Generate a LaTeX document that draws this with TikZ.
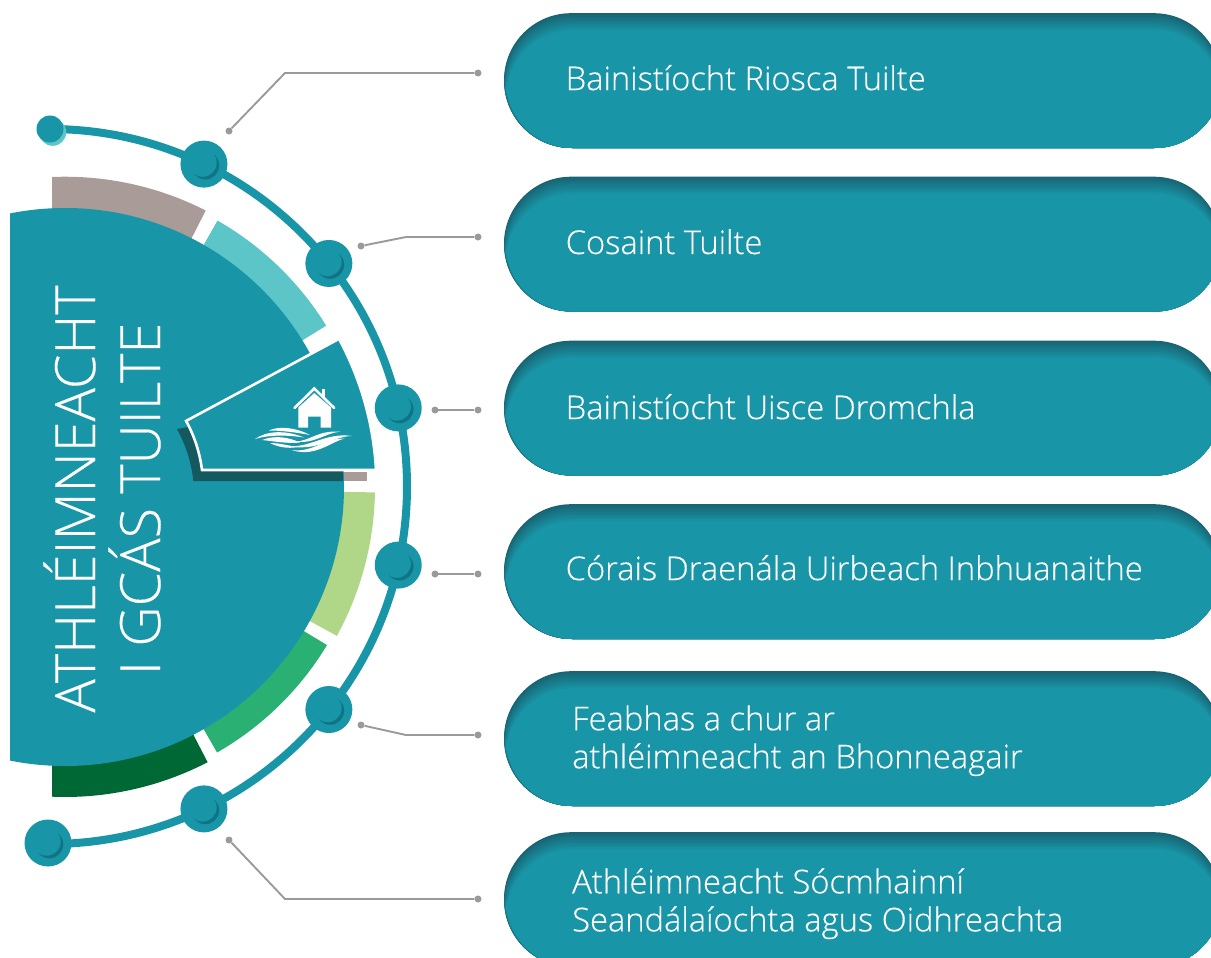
\documentclass[tikz,border=0pt]{standalone}
\usepackage{fontspec}
\setmainfont{Open Sans Light}[FakeBold=0.25]
\newfontfamily\pillfont{Open Sans Light}[FakeBold=0.35]
\usetikzlibrary{calc}
\definecolor{mainteal}{HTML}{1895A6}
\definecolor{pilldark}{HTML}{186473}
\definecolor{shadowteal}{HTML}{14595F}
\definecolor{creamteal}{HTML}{0F7485}
\definecolor{ringbrown}{HTML}{A89B98}
\definecolor{ringcyan}{HTML}{5BC5C8}
\definecolor{ringlime}{HTML}{AFD787}
\definecolor{ringgreen}{HTML}{2BB073}
\definecolor{ringdark}{HTML}{006835}
\definecolor{leadgray}{HTML}{999A9C}
\newcount\mycount
\tikzset{
 pill/.style={rectangle,rounded corners=67pt,minimum width=717pt,minimum height=135pt,inner sep=0pt},
 pilltext/.style={anchor=west,text=white,align=left,inner sep=0pt,font=\pillfont\fontsize{32.7}{38}\selectfont},
 junct/.style={circle,fill=mainteal,minimum size=47pt,inner sep=0pt,
  path picture={
   \fill[creamteal] ($(path picture bounding box.center)+(1.3,-1.3)$) circle (14pt);
   \fill[mainteal] ($(path picture bounding box.center)+(-1.3,1.3)$) circle (14pt);
  }},
 leaddot/.style={circle,fill=leadgray,minimum size=7pt,inner sep=0pt},
 leadline/.style={draw=leadgray,line width=1.9pt},
}
\begin{document}
\begin{tikzpicture}[x=1pt,y=1pt]
\useasboundingbox (0,0) rectangle (1211,-958);
\clip (0,0) rectangle (1211,-958);
\coordinate (C) at (65,-487);
\coordinate (A) at (49.5,-486.5);
% ring pieces
\fill[ringbrown] (52,-177) arc[start angle=92.4,end angle=63,radius=310pt] -- (C) -- (52,-300) -- cycle;
\foreach \startang/\endang/\ringrad/\ringcol in {60.2/31.7/307/ringcyan,-1/-28.7/310/ringlime,-31.1/-60.2/306/ringgreen}{
 \fill[\ringcol] (C) -- ++(\startang:\ringrad) arc[start angle=\startang,end angle=\endang,radius=\ringrad pt] -- cycle;
}
\fill[ringdark] (52,-796.7) arc[start angle=-92.4,end angle=-62.6,radius=310pt] -- (C) -- (52,-600) -- cycle;
% shadow piece under the sector
\fill[ringbrown] (367,-472) rectangle (343,-481);
% big disc, cut on the left
\begin{scope}
 \clip (10,0) rectangle (1211,-958);
 \fill[mainteal] (C) circle (279pt);
\end{scope}
\begin{scope}
 \clip (C) circle (279pt);
 \fill[shadowteal] (177,-429) arc[start angle=28.8,end angle=6,radius=138pt] -- (343,-481.1) -- (343,-400) -- cycle;
\end{scope}
% sector
\draw[white,line width=2.6pt,fill=mainteal,line join=miter] (C) ++(28.4:311.5) arc[start angle=28.4,end angle=3.14,radius=311.5pt] -- (202,-470) arc[start angle=7.1,end angle=28.8,radius=137pt] -- cycle;
% house
\draw[white,line width=2.6pt,line cap=round] (294.5,-408) -- (314.3,-388.5) -- (334.2,-408);
\fill[white] (322,-388.5) rectangle (325,-398);
\fill[white] (298.3,-407.5) -- (314.3,-393) -- (331,-407.5) -- (331,-427.5) -- (320.7,-427.5) -- (320.7,-416.5) -- (308,-416.5) -- (308,-427.5) -- (298.3,-427.5) -- cycle;
% waves
\fill[white] (269,-430.5) .. controls (278,-426) and (295,-427) .. (310,-435) .. controls (297,-432.5) and (282,-430.5) .. (269,-430.5);
\fill[white] (255,-439) .. controls (266,-431) and (285,-429.5) .. (304,-437.5) .. controls (288,-435) and (270,-434.5) .. (255,-439);
\fill[white] (262,-440) .. controls (275,-435) and (288,-437) .. (300,-442.5) .. controls (288,-444) and (272,-441) .. (262,-440);
\fill[white] (270,-443) .. controls (280,-443) and (290,-446) .. (297,-447) .. controls (288,-449) and (278,-447) .. (270,-443);
\fill[white] (295,-441.7) .. controls (310,-441) and (318,-430) .. (340,-431.7) .. controls (325,-433) and (315,-444) .. (295,-441.7);
\fill[white] (285,-446) .. controls (310,-449) and (325,-432) .. (352,-436) .. controls (333,-436) and (320,-452) .. (285,-446);
\fill[white] (291.7,-450) .. controls (312,-453) and (325,-438) .. (345,-438.5) .. controls (332,-441) and (315,-458) .. (291.7,-450);
% title
\node[rotate=90,align=center,text=white,inner sep=0pt,font=\fontsize{55.7}{65}\selectfont] (title) at (102,-499) {ATHLÉIMNEACHT\\I GCÁS TUILTE};
% arc and its stops
\draw[mainteal,line width=8pt] (A) ++(90:357.5) arc[start angle=90,end angle=-90,radius=357.5pt];
\foreach \number/\ang in {1/64.4,2/38.6,3/12.7,4/-12.7,5/-38.6,6/-64.4}{
\node[junct] (N-\number) at ($(A)+(\ang:357.5)$) {};
}
\fill[ringcyan] (52.7,-132.3) circle (13.5pt);
\node[circle,fill=mainteal,minimum size=27pt,inner sep=0pt] (endtop) at (50,-129) {};
\node[junct] (endbot) at (48,-843) {};
% pills
\foreach \number/\ypos/\xtext/\ytext/\ptext in {1/80.5/565.5/77.7/{Bainistíocht Riosca Tuilte},2/244/565.5/241.7/{Cosaint Tuilte},3/408/565.5/406.7/{Bainistíocht Uisce Dromchla},4/571.5/565.5/567.7/{Córais Draenála Uirbeach Inbhuanaithe},5/738.5/572/740.7/{Feabhas a chur ar\\athléimneacht an Bhonneagair},6/899.5/572/903.7/{Athléimneacht Sócmhainní\\Seandálaíochta agus Oidhreachta}}{
 \node[pill,fill=pilldark,minimum height=134.6pt] (P-\number) at (862.5,-\ypos) {};
 \foreach \layer in {1,...,9}{
  \mycount=\layer
  \multiply\mycount by 11
  \advance\mycount by 1
  \node[pill,fill=mainteal!\the\mycount!pilldark,minimum width={717.5pt-\layer*0.25pt},minimum height={135pt-\layer*1.9pt}] (P-\number-\layer) at (862.7+\layer*0.125,-\ypos-\layer*0.95) {};
 }
 \node[pilltext] (T-\number) at (\xtext,-\ytext) {\ptext};
}
% leaders
\foreach \number/\xa/\ya/\xb/\yb/\yc in {1/229/131/285/73/73,2/361/246/406/237/237,3/435/410/435/410/410,4/435/574/435/574/574,5/361/725/406/735/735,6/229/840/285/899/899}{
 \node[leaddot] (L-\number) at (\xa,-\ya) {};
 \coordinate (K-\number) at (\xb,-\yb);
 \node[leaddot] (R-\number) at (478,-\yc) {};
 \draw[leadline] (L-\number) -- (K-\number) -- (R-\number);
}
\end{tikzpicture}
\end{document}
